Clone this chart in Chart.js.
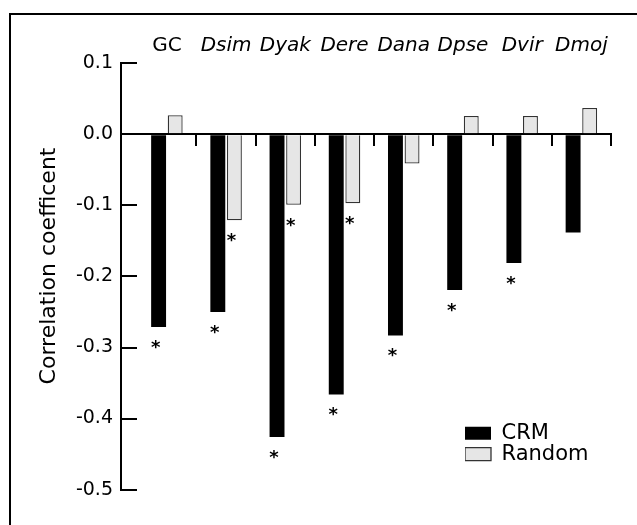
<!DOCTYPE html>
<html>
<head>
<meta charset="utf-8">
<script src="https://cdn.jsdelivr.net/npm/chart.js@4.4.1/dist/chart.umd.min.js"></script>
<style>
  html, body { margin: 0; padding: 0; background: #fff; }
  #wrap { position: relative; width: 637px; height: 525px; overflow: hidden; }
  #frame { position: absolute; left: 9px; top: 13px; right: -10px; bottom: -10px;
           border-left: 2px solid #000; border-top: 2px solid #000; }
  #myChart { position: absolute; left: 0; top: 0; }
</style>
</head>
<body>
<div id="wrap">
  <div id="frame"></div>
  <canvas id="myChart" width="637" height="525"></canvas>
</div>
<script>
var categories = ["GC", "Dsim", "Dyak", "Dere", "Dana", "Dpse", "Dvir", "Dmoj"];
var crmValues = [-0.271, -0.250, -0.426, -0.366, -0.283, -0.219, -0.181, -0.138];
var randomValues = [0.027, -0.121, -0.099, -0.097, -0.041, 0.026, 0.026, 0.037];
var crmSignificant = [true, true, true, true, true, true, true, false];
var randomSignificant = [false, true, true, true, false, false, false, false];
var yTicks = [0.1, 0.0, -0.1, -0.2, -0.3, -0.4, -0.5];

var fontFamily = '"DejaVu Sans", sans-serif';
Chart.defaults.font.family = fontFamily;
Chart.defaults.color = "#000";

function toPoints(values) {
  return values.map(function(v, i) { return {x: i, y: v}; });
}

// asterisks under the significant bars
var sigMarks = {
  id: 'sigMarks',
  afterDatasetsDraw: function(chart) {
    var ctx = chart.ctx;
    ctx.save();
    ctx.font = 'bold 18px ' + fontFamily;
    ctx.fillStyle = "#000";
    ctx.textAlign = "center";
    ctx.textBaseline = "alphabetic";
    [crmSignificant, randomSignificant].forEach(function(flags, d) {
      chart.getDatasetMeta(d).data.forEach(function(bar, i) {
        if (flags[i]) ctx.fillText("*", bar.x - 3, bar.y + 26);
      });
    });
    ctx.restore();
  }
};

// put the legend inside the plot, lower right
var placeLegend = {
  id: 'placeLegend',
  afterLayout: function(chart) {
    var lg = chart.legend;
    var w = lg.width, h = lg.height;
    lg.left = 465; lg.top = 422.7;
    lg.right = lg.left + w; lg.bottom = lg.top + h;
  }
};

var ctx = document.getElementById("myChart");
new Chart(ctx, {
  type: 'bar',
  data: {
    datasets: [{
      label: 'CRM',
      data: toPoints(crmValues),
      backgroundColor: "#000",
      borderColor: "#000",
      borderWidth: 0
    }, {
      label: 'Random',
      data: toPoints(randomValues),
      backgroundColor: "#e6e6e6",
      borderColor: "#333",
      borderWidth: 1.3
    }]
  },
  plugins: [sigMarks, placeLegend],
  options: {
    responsive: false,
    animation: false,
    devicePixelRatio: 1,
    categoryPercentage: 0.56,
    barPercentage: 0.9,
    layout: { padding: { left: 30, right: 26, top: 0, bottom: 28.3 } },
    plugins: {
      tooltip: { enabled: false },
      legend: {
        position: 'chartArea',
        align: 'start',
        labels: {
          boxWidth: 26,
          boxHeight: 13,
          padding: 0,
          font: { size: 21 },
          color: "#000"
        }
      }
    },
    scales: {
      x: {
        type: 'linear',
        position: 'top',
        offset: false,
        min: -0.775,
        max: 7.5,
        afterBuildTicks: function(s) {
          s.ticks = categories.map(function(c, i) { return {value: i}; });
        },
        afterFit: function(s) { s.height = 63.3; },
        ticks: {
          padding: 6,
          callback: function(v, i) { return categories[i]; },
          font: function(c) {
            return { size: 20, style: c.index === 0 ? 'normal' : 'italic' };
          }
        },
        grid: { display: false, drawTicks: false, offset: false },
        border: { display: false }
      },
      xb: {
        type: 'linear',
        position: { y: 0 },
        offset: false,
        min: -0.775,
        max: 7.5,
        afterBuildTicks: function(s) {
          s.ticks = categories.map(function(c, i) { return {value: i + 0.5}; });
        },
        ticks: { display: false },
        grid: { offset: false, drawOnChartArea: false, drawTicks: true, tickLength: 11, lineWidth: 2, color: "#000" },
        border: { display: true, width: 2, color: "#000" }
      },
      y: {
        position: 'left',
        min: -0.5,
        max: 0.1,
        afterBuildTicks: function(s) {
          s.ticks = yTicks.map(function(v) { return {value: v}; });
        },
        afterFit: function(s) { s.width = 91; },
        ticks: {
          padding: 24,
          font: { size: 19 },
          callback: function(v) { return v.toFixed(1); }
        },
        grid: { drawOnChartArea: false, drawTicks: true, tickLength: -16, lineWidth: 2, color: "#000" },
        border: { display: true, width: 2, color: "#000" },
        title: {
          display: true,
          text: '   Correlation coefficent',
          font: { size: 22 },
          padding: { top: 6, bottom: 0 }
        }
      }
    }
  }
});
</script>
</body>
</html>
